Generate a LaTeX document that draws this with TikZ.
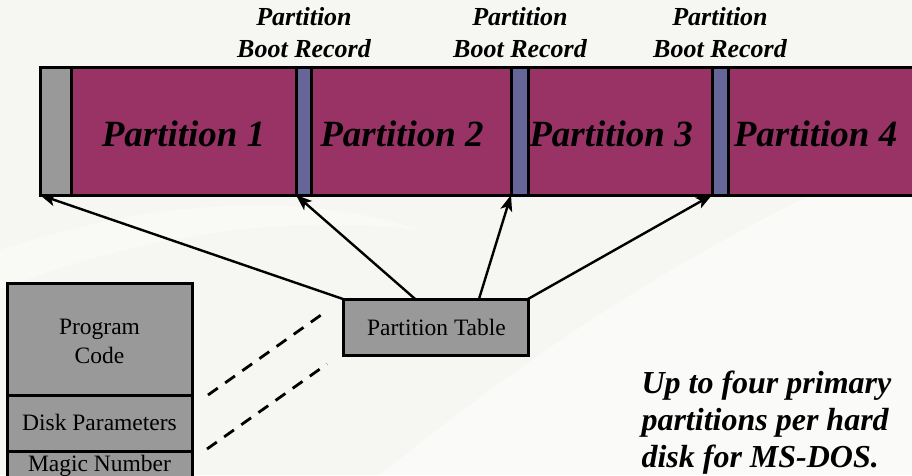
\documentclass[tikz,border=0pt]{standalone}
\usepackage{fontspec}
\setmainfont{Liberation Serif}
\usetikzlibrary{arrows.meta,calc}

\definecolor{bgpaper}{HTML}{F6F6F2}
\definecolor{partfill}{HTML}{993366}
\definecolor{pbrfill}{HTML}{666699}
\definecolor{blockgray}{HTML}{999999}

\tikzset{
  block/.style={draw=black, line width=3pt, inner sep=0pt, outer sep=0pt,
                anchor=north west},
  partlabel/.style={font=\bfseries\itshape\fontsize{37}{40}\selectfont, anchor=base},
  pbrlabel/.style={font=\bfseries\itshape\fontsize{26}{32}\selectfont, align=center,
                   anchor=base},
  plain/.style={font=\fontsize{23.5}{29}\selectfont, align=center, anchor=base},
  arr/.style={line width=2.4pt, -{Stealth[length=16pt,width=12pt,inset=4pt]}},
  dashline/.style={line width=2.8pt, dash pattern=on 12pt off 9pt},
}

\begin{document}
\begin{tikzpicture}[x=1pt,y=-1pt]
  \useasboundingbox (0,0) rectangle (912,475);
  \clip (0,0) rectangle (912,475);

  % paper background with a soft lighter swoosh
  \fill[bgpaper] (0,0) rectangle (912,475);
  \fill[white, opacity=0.55] (380,475) .. controls (560,330) and (720,230) .. (912,150)
       -- (912,475) -- cycle;
  \fill[white, opacity=0.35] (0,250) .. controls (150,200) and (300,190) .. (420,230)
       .. controls (300,215) and (150,230) .. (0,290) -- cycle;

  % the disk: boot sector, partitions and partition boot records
  \node[block, fill=partfill, minimum width=880, minimum height=128] (disk) at (40,67) {};
  \node[block, fill=blockgray, minimum width=31, minimum height=128] (mbr) at (40,67) {};
  \node[block, fill=pbrfill, minimum width=15, minimum height=128] (pbr1) at (296,67) {};
  \node[block, fill=pbrfill, minimum width=17, minimum height=128] (pbr2) at (511,67) {};
  \node[block, fill=pbrfill, minimum width=16, minimum height=128] (pbr3) at (712,67) {};

  \node[partlabel] (p1) at (183.5,146) {Partition 1};
  \node[partlabel] (p2) at (402,146) {Partition 2};
  \node[partlabel] (p3) at (611,146) {Partition 3};
  \node[partlabel] (p4) at (815.5,146) {Partition 4};

  % multi-line labels are anchored at the baseline of their last line
  \node[pbrlabel] (l1) at (304,57) {Partition\\Boot Record};
  \node[pbrlabel] (l2) at (520,57) {Partition\\Boot Record};
  \node[pbrlabel] (l3) at (720,57) {Partition\\Boot Record};

  % partition table
  \node[block, fill=blockgray, minimum width=185, minimum height=56] (pt) at (343,299) {};
  \node[plain] (ptl) at (436.5,335) {Partition Table};

  \draw[arr] (pt.north west) -- (mbr.south west);
  \draw[arr] ($(pt.north west)!0.39!(pt.north east)$) -- (pbr1.south west);
  \draw[arr] ($(pt.north west)!0.735!(pt.north east)$) -- (pbr2.south west);
  \draw[arr] (pt.north east) -- (pbr3.south west);

  % master boot record layout
  \node[block, fill=blockgray, minimum width=185, minimum height=112] (code) at (7,283) {};
  \node[block, fill=blockgray, minimum width=185, minimum height=56] (params) at (7,395) {};
  \node[block, fill=blockgray, minimum width=185, minimum height=40] (magic) at (7,451) {};
  \node[plain] (codel) at (99.5,363) {Program\\Code};
  \node[plain] (paramsl) at (99.5,430) {Disk Parameters};
  \node[plain] (magicl) at (99.5,471) {Magic Number};

  % expansion of the partition table area
  \coordinate (d1a) at (208,395);
  \coordinate (d1b) at (321,315);
  \coordinate (d2a) at (207,449);
  \coordinate (d2b) at (327,364);
  \draw[dashline] (d1a) -- (d1b);
  \draw[dashline] (d2a) -- (d2b);

  % note
  \node[font=\bfseries\itshape\fontsize{32}{37}\selectfont, align=left, anchor=base west]
    (note) at (638,467) {Up to four primary\\partitions per hard\\disk for MS-DOS.};
\end{tikzpicture}
\end{document}
